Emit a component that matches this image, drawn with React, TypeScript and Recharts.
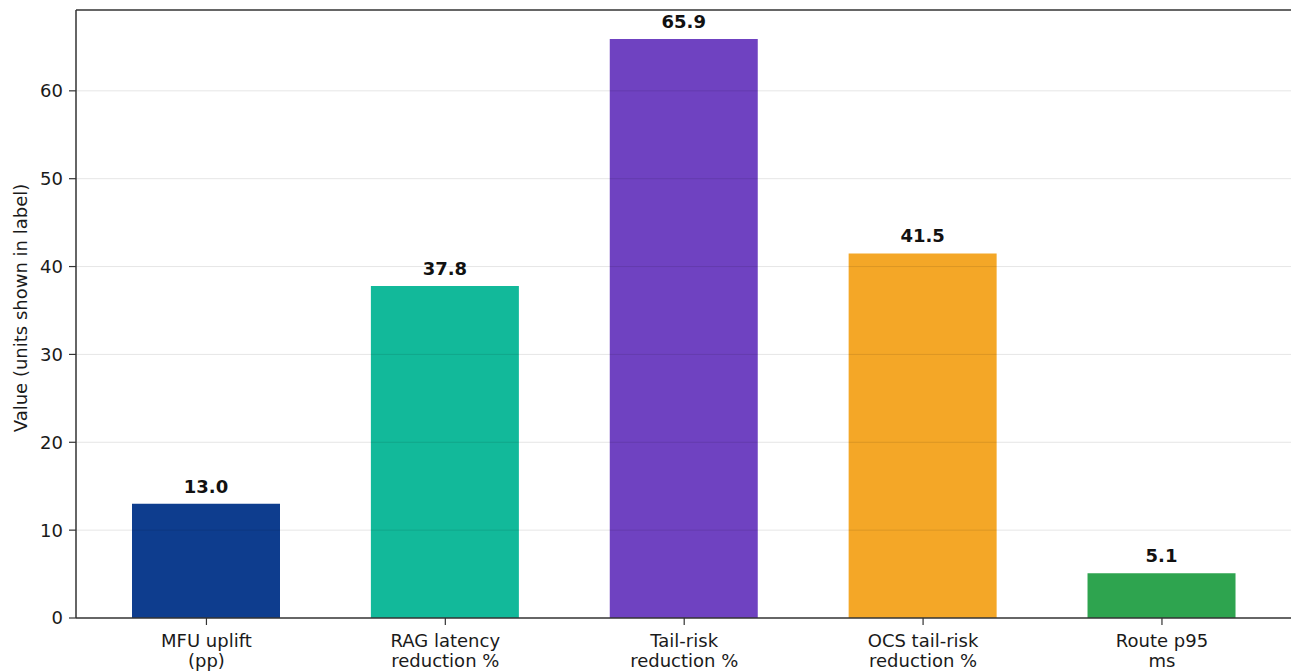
import React from 'react';
import {
  BarChart,
  Bar,
  XAxis,
  YAxis,
  Cell,
  LabelList,
  ReferenceLine,
} from 'recharts';

const categories: string[] = [
  'MFU uplift\n(pp)',
  'RAG latency\nreduction %',
  'Tail-risk\nreduction %',
  'OCS tail-risk\nreduction %',
  'Route p95\nms',
];
const values: number[] = [13.0, 37.8, 65.9, 41.5, 5.1];
const colors: string[] = ['#0e3d8e', '#12b99a', '#6f42c1', '#f4a727', '#2ea44f'];
const yTicks: number[] = [0, 10, 20, 30, 40, 50, 60];
const yMax = 69.2;

const data = categories.map((name, i) => ({ name, value: values[i], color: colors[i] }));

const FONT = '"DejaVu Sans", sans-serif';

// two-line category tick
const CategoryTick = (props: any) => {
  const { x, y, payload } = props;
  const lines: string[] = String(payload.value).split('\n');
  return (
    <text x={x} y={y} textAnchor="middle" fontFamily={FONT} fontSize={18} fill="#1a1a1a">
      {lines.map((line, i) => (
        <tspan key={i} x={x} dy={i === 0 ? 18.5 : 20.5}>
          {line}
        </tspan>
      ))}
    </text>
  );
};

const App: React.FC = () => {
  return (
    <div
      style={{
        position: 'fixed',
        left: 0,
        top: 0,
        width: 1291,
        height: 671,
        overflow: 'hidden',
        background: '#fff',
      }}
    >
      <BarChart
        width={1300}
        height={671}
        data={data}
        margin={{ top: 10, right: 7.6, bottom: 0, left: 0 }}
      >
        <XAxis
          dataKey="name"
          height={53}
          padding={{ left: 11, right: 11 }}
          tick={<CategoryTick />}
          tickSize={7}
          tickMargin={3}
          interval={0}
          axisLine={{ stroke: '#333', strokeWidth: 1.5 }}
          tickLine={{ stroke: '#333', strokeWidth: 1.2 }}
        />
        <YAxis
          width={76}
          domain={[0, yMax]}
          ticks={yTicks}
          allowDataOverflow
          tickSize={7}
          tickMargin={6}
          tick={{ fontFamily: FONT, fontSize: 18, fill: '#1a1a1a' }}
          axisLine={{ stroke: '#333', strokeWidth: 1.5 }}
          tickLine={{ stroke: '#333', strokeWidth: 1.2 }}
          label={(p: any) => (
            <text
              x={20}
              y={308}
              transform="rotate(-90, 20, 308)"
              textAnchor="middle"
              dominantBaseline="central"
              fontFamily={FONT}
              fontSize={18}
              fill="#1a1a1a"
            >
              Value (units shown in label)
            </text>
          )}
        />
        <Bar dataKey="value" barSize={148} isAnimationActive={false}>
          {data.map((d, i) => (
            <Cell key={`cell-${i}`} fill={d.color} />
          ))}
          <LabelList
            dataKey="value"
            position="top"
            offset={11}
            formatter={(v: any) => Number(v).toFixed(1)}
            style={{ fontFamily: FONT, fontSize: 18, fontWeight: 'bold', fill: '#111' }}
          />
        </Bar>
        {/* light grid drawn over bars */}
        {yTicks.slice(1).map((t) => (
          <ReferenceLine key={t} y={t} stroke="#000" strokeOpacity={0.1} strokeWidth={1} />
        ))}
        {/* top spine */}
        <ReferenceLine y={yMax} stroke="#333" strokeWidth={1.5} />
      </BarChart>
    </div>
  );
};

export default App;
